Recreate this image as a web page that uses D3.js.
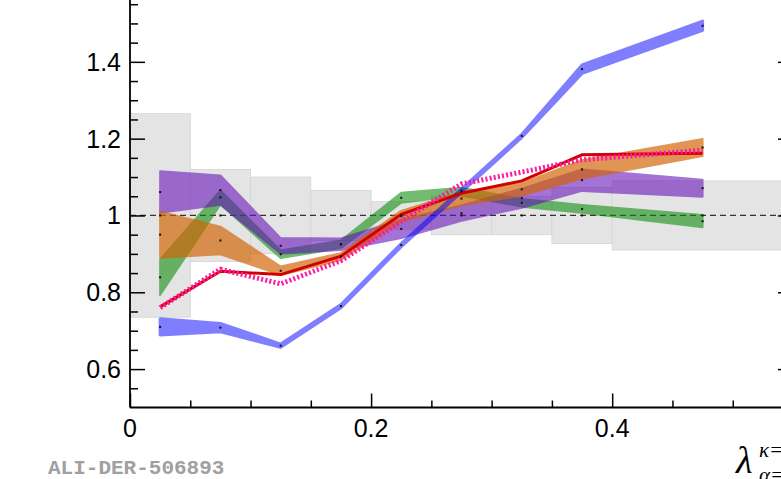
<!DOCTYPE html>
<html>
<head>
<meta charset="utf-8">
<script src="https://cdn.jsdelivr.net/npm/d3@7"></script>
<style>
  body { margin: 0; background: #fff; }
  svg { display: block; }
</style>
</head>
<body>
<script>
// bin centres and edges
const xCenters = [0.025, 0.075, 0.125, 0.175, 0.225, 0.275, 0.325, 0.375, 0.475];
const binEdges = [0, 0.05, 0.1, 0.15, 0.2, 0.25, 0.3, 0.35, 0.4, 0.55];
// grey systematic boxes around 1
const sysHalf = [0.265, 0.12, 0.10, 0.065, 0.036, 0.05, 0.05, 0.073, 0.09];

// bands: centre and half width
const blueMid = [0.71, 0.708, 0.661, 0.764, 0.923, 1.065, 1.207, 1.381, 1.494];
const blueErr = [0.021, 0.011, 0.004, 0.004, 0.004, 0.004, 0.004, 0.011, 0.012];
const purpleMid = [1.061, 1.066, 0.921, 0.925, 0.965, 1.006, 1.045, 1.092, 1.071];
const purpleErr = [0.054, 0.038, 0.02, 0.015, 0.024, 0.02, 0.025, 0.028, 0.022];
const greenMid = [0.839, 1.047, 0.899, 0.925, 1.046, 1.062, 1.033, 1.017, 0.985];
const greenErr = [0.046, 0.018, 0.01, 0.01, 0.013, 0.01, 0.01, 0.01, 0.016];
const orangeMid = [0.95, 0.935, 0.856, 0.893, 0.998, 1.044, 1.068, 1.12, 1.177];
const orangeErr = [0.06, 0.036, 0.011, 0.009, 0.014, 0.017, 0.016, 0.024, 0.022];
// lines
const redLine = [0.762, 0.855, 0.846, 0.894, 1.003, 1.058, 1.09, 1.158, 1.162];
const pinkLine = [0.76, 0.86, 0.822, 0.882, 0.985, 1.082, 1.113, 1.145, 1.17];

const yTicksMajor = [0.6, 0.8, 1.0, 1.2, 1.4];
const yTickLabels = ["0.6", "0.8", "1", "1.2", "1.4"];
const xTicksMajor = [0, 0.2, 0.4];
const xTickLabels = ["0", "0.2", "0.4"];

const W = 781, H = 479;
const svg = d3.select("body").append("svg")
  .attr("width", W)
  .attr("height", H);

const x = d3.scaleLinear().domain([0, 0.55]).range([130, 793]);
const y = d3.scaleLinear().domain([0.5, 1.561]).range([407.5, 0]);

// grey boxes
const boxes = svg.append('g');
sysHalf.forEach(function (h, i) {
  boxes.append('rect')
    .attr('x', x(binEdges[i]))
    .attr('width', x(binEdges[i + 1]) - x(binEdges[i]))
    .attr('y', y(1 + h))
    .attr('height', y(1 - h) - y(1 + h))
    .attr('fill', '#e4e4e4')
    .attr('stroke', '#d4d4d4')
    .attr('stroke-width', 0.8);
});

// dashed line at 1
svg.append('line')
  .attr('x1', x(0)).attr('x2', W)
  .attr('y1', y(1)).attr('y2', y(1))
  .attr('stroke', '#333')
  .attr('stroke-width', 1.2)
  .attr('stroke-dasharray', '6,4');

function band(mid, err, color, opacity, sw) {
  const pts = xCenters.map(function (v, i) { return { x: v, lo: mid[i] - err[i], hi: mid[i] + err[i] }; });
  const area = d3.area()
    .x(function (d) { return x(d.x); })
    .y0(function (d) { return y(d.lo); })
    .y1(function (d) { return y(d.hi); });
  svg.append('g').attr('opacity', opacity)
    .append('path')
    .attr('d', area(pts))
    .attr('fill', color)
    .attr('stroke', color)
    .attr('stroke-width', sw)
    .attr('stroke-linejoin', 'round');
}

band(greenMid, greenErr, 'rgb(13,140,13)', 0.58, 2);
band(purpleMid, purpleErr, 'rgb(100,15,185)', 0.58, 2);
band(orangeMid, orangeErr, 'rgb(210,100,5)', 0.68, 2);
band(blueMid, blueErr, 'rgb(0,0,255)', 0.5, 3);

const line = d3.line()
  .x(function (d, i) { return x(xCenters[i]); })
  .y(function (d) { return y(d); });

svg.append('path')
  .attr('d', line(redLine))
  .attr('fill', 'none')
  .attr('stroke', '#d20000')
  .attr('stroke-width', 3);

svg.append('path')
  .attr('d', line(pinkLine))
  .attr('fill', 'none')
  .attr('stroke', '#ff18a0')
  .attr('stroke-width', 5)
  .attr('stroke-dasharray', '2,2.2');

// small black markers at the central values
const dots = svg.append('g');
[blueMid, purpleMid, greenMid, orangeMid, xCenters.map(function () { return 1; })].forEach(function (arr) {
  dots.selectAll(null).data(arr).enter().append('rect')
    .attr('x', function (d, i) { return x(xCenters[i]) - 1; })
    .attr('y', function (d) { return y(d) - 1; })
    .attr('width', 2).attr('height', 2)
    .attr('fill', '#111');
});

// axes
const yAxis = d3.axisRight(y).tickValues(yTicksMajor).tickSize(15).tickFormat('');
svg.append('g').attr('transform', 'translate(' + x(0) + ',0)').call(yAxis)
  .call(function (g) { g.select('.domain').remove(); })
  .selectAll('line').attr('stroke', '#000').attr('stroke-width', 1.5);
const yMinor = d3.range(0.55, 1.56, 0.05).filter(function (v) { return !yTicksMajor.some(function (m) { return Math.abs(m - v) < 1e-6; }); });
svg.append('g').attr('transform', 'translate(' + x(0) + ',0)')
  .call(d3.axisRight(y).tickValues(yMinor).tickSize(8).tickFormat(''))
  .call(function (g) { g.select('.domain').remove(); })
  .selectAll('line').attr('stroke', '#000').attr('stroke-width', 1.5);

// mirrored right axis (just outside the frame)
svg.append('g').attr('transform', 'translate(' + x(0.55) + ',0)')
  .call(d3.axisLeft(y).tickValues(yTicksMajor).tickSize(15).tickFormat(''))
  .call(function (g) { g.select('.domain').remove(); })
  .selectAll('line').attr('stroke', '#000').attr('stroke-width', 1.5);

const xMinor = d3.range(0.05, 0.55, 0.05).filter(function (v) { return !xTicksMajor.some(function (m) { return Math.abs(m - v) < 1e-6; }); });
svg.append('g').attr('transform', 'translate(0,' + y(0.5) + ')')
  .call(d3.axisTop(x).tickValues(xTicksMajor).tickSize(14).tickFormat(''))
  .call(function (g) { g.select('.domain').remove(); })
  .selectAll('line').attr('stroke', '#000').attr('stroke-width', 1.5);
svg.append('g').attr('transform', 'translate(0,' + y(0.5) + ')')
  .call(d3.axisTop(x).tickValues(xMinor).tickSize(7).tickFormat(''))
  .call(function (g) { g.select('.domain').remove(); })
  .selectAll('line').attr('stroke', '#000').attr('stroke-width', 1.5);

// axis lines
svg.append('line')
  .attr('x1', x(0)).attr('x2', x(0)).attr('y1', 0).attr('y2', y(0.5))
  .attr('stroke', '#000').attr('stroke-width', 1.8);
svg.append('line')
  .attr('x1', x(0)).attr('x2', W).attr('y1', y(0.5)).attr('y2', y(0.5))
  .attr('stroke', '#000').attr('stroke-width', 1.8);

// tick labels
svg.append('g').selectAll('text').data(yTicksMajor).enter().append('text')
  .attr('x', 121)
  .attr('y', function (d) { return y(d); })
  .attr('dy', '0.36em')
  .attr('text-anchor', 'end')
  .attr('font-family', 'Liberation Sans, Arial, sans-serif')
  .attr('font-size', 25)
  .text(function (d, i) { return yTickLabels[i]; });

svg.append('g').selectAll('text').data(xTicksMajor).enter().append('text')
  .attr('x', function (d) { return x(d); })
  .attr('y', 437)
  .attr('text-anchor', 'middle')
  .attr('font-family', 'Liberation Sans, Arial, sans-serif')
  .attr('font-size', 25)
  .text(function (d, i) { return xTickLabels[i]; });

svg.append('text')
  .attr('x', 48).attr('y', 474)
  .attr('font-family', 'Liberation Mono, Courier New, monospace')
  .attr('font-weight', 'bold')
  .attr('font-size', 21)
  .attr('fill', '#a0a0a0')
  .text('ALI-DER-506893');

// axis title (cut by the frame, as in the original)
const lab = svg.append('g')
  .attr('font-family', 'Liberation Serif, Times New Roman, serif')
  .attr('font-style', 'italic');
lab.append('text').attr('x', 736).attr('y', 473).attr('font-size', 38).text('λ');
lab.append('text').attr('x', 759).attr('y', 457).attr('font-size', 21).text('κ=');
lab.append('text').attr('x', 759).attr('y', 482).attr('font-size', 21).text('α=');
</script>
</body>
</html>
